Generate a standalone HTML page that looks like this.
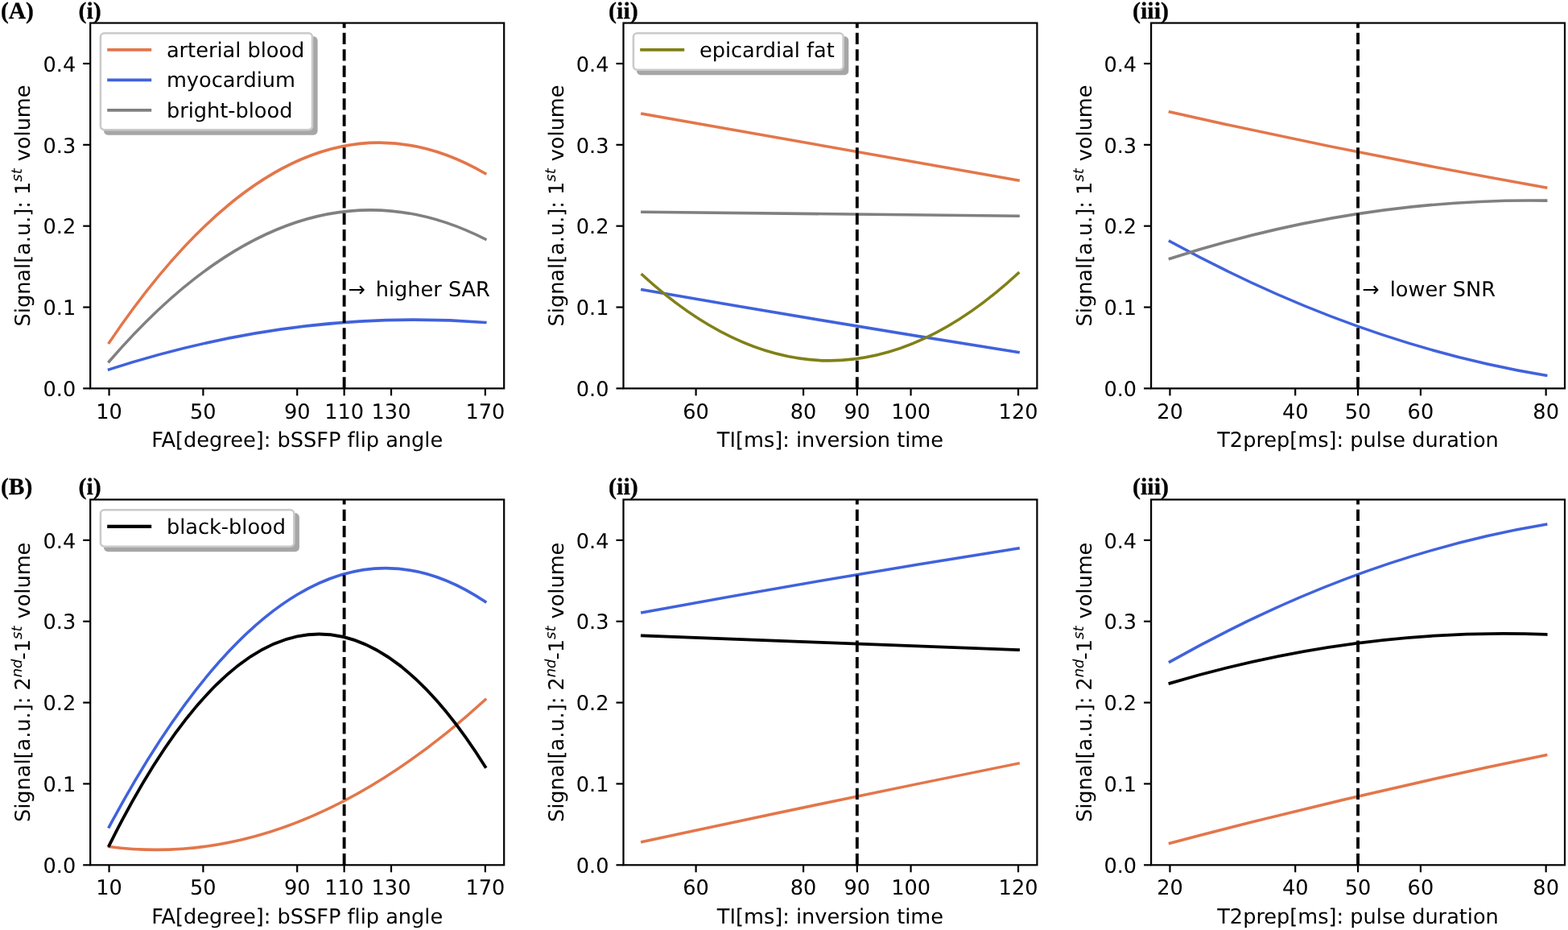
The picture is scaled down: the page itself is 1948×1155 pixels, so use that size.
<!DOCTYPE html>
<html lang="en">
<head>
<meta charset="utf-8">
<title>Signal simulation figure</title>
<style>
html,body{margin:0;padding:0;background:#fff}
body{width:1948px;height:1155px;overflow:hidden}
svg{display:block;filter:blur(0.4px)}
text{white-space:pre;font-variant-ligatures:none;text-rendering:geometricPrecision}
</style>
</head>
<body>
<svg width="1948" height="1155" viewBox="0 0 1948 1155" role="img" aria-label="Simulated signal curves">
<rect width="1948" height="1155" fill="#fff"/>
<g font-family="'DejaVu Sans', 'Liberation Sans', sans-serif" font-size="25.6" fill="#000">
<g>
<path d="M135.56 425.62Q369.2 79.66 602.84 215.44" fill="none" stroke="#e3764a" stroke-width="3.55" stroke-linecap="square"/>
<path d="M135.56 458.9Q369.2 382.86 602.84 400.4" fill="none" stroke="#4062dc" stroke-width="3.55" stroke-linecap="square"/>
<path d="M135.56 449.02Q369.2 178.28 602.84 297.03" fill="none" stroke="#808080" stroke-width="3.55" stroke-linecap="square"/>
<path d="M427.61 482.4V28.55" fill="none" stroke="#000" stroke-width="3.85" stroke-dasharray="14.21 6.14"/>
<path d="M135.56 482.4v9" stroke="#000" stroke-width="2.2"/>
<text x="135.56" y="519.8" text-anchor="middle">10</text>
<path d="M252.38 482.4v9" stroke="#000" stroke-width="2.2"/>
<text x="252.38" y="519.8" text-anchor="middle">50</text>
<path d="M369.2 482.4v9" stroke="#000" stroke-width="2.2"/>
<text x="369.2" y="519.8" text-anchor="middle">90</text>
<path d="M427.61 482.4v9" stroke="#000" stroke-width="2.2"/>
<text x="427.61" y="519.8" text-anchor="middle">110</text>
<path d="M486.02 482.4v9" stroke="#000" stroke-width="2.2"/>
<text x="486.02" y="519.8" text-anchor="middle">130</text>
<path d="M602.84 482.4v9" stroke="#000" stroke-width="2.2"/>
<text x="602.84" y="519.8" text-anchor="middle">170</text>
<path d="M112.2 482.4h-9" stroke="#000" stroke-width="2.2"/>
<text x="94.2" y="492.1" text-anchor="end">0.0</text>
<path d="M112.2 381.54h-9" stroke="#000" stroke-width="2.2"/>
<text x="94.2" y="391.24" text-anchor="end">0.1</text>
<path d="M112.2 280.69h-9" stroke="#000" stroke-width="2.2"/>
<text x="94.2" y="290.39" text-anchor="end">0.2</text>
<path d="M112.2 179.83h-9" stroke="#000" stroke-width="2.2"/>
<text x="94.2" y="189.53" text-anchor="end">0.3</text>
<path d="M112.2 78.98h-9" stroke="#000" stroke-width="2.2"/>
<text x="94.2" y="88.68" text-anchor="end">0.4</text>
<rect x="112.2" y="28.55" width="514" height="453.85" fill="none" stroke="#000" stroke-width="2.2"/>
<text x="369.2" y="555.25" text-anchor="middle">FA[degree]: bSSFP flip angle</text>
<text transform="translate(37.2 255.47) rotate(-90)" text-anchor="middle">Signal[a.u.]: 1<tspan font-size="17.92" font-style="italic" dy="-9.73">st</tspan><tspan dy="9.73" dx="0.9"> volume</tspan></text>
<rect x="130.25" y="46.4" width="263.1" height="120" rx="3.8" fill="#a6a6a6" stroke="#a6a6a6" stroke-width="2.5"/>
<rect x="124.9" y="41.2" width="263.1" height="120" rx="4.6" fill="#fff" stroke="#cacaca" stroke-width="2.6"/>
<path d="M133.2 61.9h55" stroke="#e3764a" stroke-width="3.85"/>
<text x="206.9" y="70.9">arterial blood</text>
<path d="M133.2 99.4h55" stroke="#4062dc" stroke-width="3.85"/>
<text x="206.9" y="108.4">myocardium</text>
<path d="M133.2 136.9h55" stroke="#808080" stroke-width="3.85"/>
<text x="206.9" y="145.9">bright-blood</text>
<text x="432.5" y="368.1">→</text>
<text x="466.7" y="368">higher SAR</text>
</g>
<g>
<path d="M797.86 141.21Q1031.45 183.26 1265.04 223.91" fill="none" stroke="#e3764a" stroke-width="3.55" stroke-linecap="square"/>
<path d="M797.86 359.76Q1031.45 400.38 1265.04 437.52" fill="none" stroke="#4062dc" stroke-width="3.55" stroke-linecap="square"/>
<path d="M797.86 263.24Q1031.45 265.03 1265.04 268.28" fill="none" stroke="#808080" stroke-width="3.55" stroke-linecap="square"/>
<path d="M797.86 341.3Q1031.45 555.36 1265.04 339.29" fill="none" stroke="#808018" stroke-width="3.55" stroke-linecap="square"/>
<path d="M1064.82 482.4V28.55" fill="none" stroke="#000" stroke-width="3.85" stroke-dasharray="14.21 6.14"/>
<path d="M864.6 482.4v9" stroke="#000" stroke-width="2.2"/>
<text x="864.6" y="519.8" text-anchor="middle">60</text>
<path d="M998.08 482.4v9" stroke="#000" stroke-width="2.2"/>
<text x="998.08" y="519.8" text-anchor="middle">80</text>
<path d="M1064.82 482.4v9" stroke="#000" stroke-width="2.2"/>
<text x="1064.82" y="519.8" text-anchor="middle">90</text>
<path d="M1131.56 482.4v9" stroke="#000" stroke-width="2.2"/>
<text x="1131.56" y="519.8" text-anchor="middle">100</text>
<path d="M1265.04 482.4v9" stroke="#000" stroke-width="2.2"/>
<text x="1265.04" y="519.8" text-anchor="middle">120</text>
<path d="M774.5 482.4h-9" stroke="#000" stroke-width="2.2"/>
<text x="756.5" y="492.1" text-anchor="end">0.0</text>
<path d="M774.5 381.54h-9" stroke="#000" stroke-width="2.2"/>
<text x="756.5" y="391.24" text-anchor="end">0.1</text>
<path d="M774.5 280.69h-9" stroke="#000" stroke-width="2.2"/>
<text x="756.5" y="290.39" text-anchor="end">0.2</text>
<path d="M774.5 179.83h-9" stroke="#000" stroke-width="2.2"/>
<text x="756.5" y="189.53" text-anchor="end">0.3</text>
<path d="M774.5 78.98h-9" stroke="#000" stroke-width="2.2"/>
<text x="756.5" y="88.68" text-anchor="end">0.4</text>
<rect x="774.5" y="28.55" width="513.9" height="453.85" fill="none" stroke="#000" stroke-width="2.2"/>
<text x="1031.45" y="555.25" text-anchor="middle">TI[ms]: inversion time</text>
<text transform="translate(699.7 255.47) rotate(-90)" text-anchor="middle">Signal[a.u.]: 1<tspan font-size="17.92" font-style="italic" dy="-9.73">st</tspan><tspan dy="9.73" dx="0.9"> volume</tspan></text>
<rect x="792.25" y="46.4" width="260.8" height="45.5" rx="3.8" fill="#a6a6a6" stroke="#a6a6a6" stroke-width="2.5"/>
<rect x="786.9" y="41.2" width="260.8" height="45.5" rx="4.6" fill="#fff" stroke="#cacaca" stroke-width="2.6"/>
<path d="M795.2 61.9h55" stroke="#808018" stroke-width="3.85"/>
<text x="868.9" y="70.9">epicardial fat</text>
</g>
<g>
<path d="M1453.46 139.09Q1687.05 191.63 1920.64 232.88" fill="none" stroke="#e3764a" stroke-width="3.55" stroke-linecap="square"/>
<path d="M1453.46 299.75Q1687.05 427.74 1920.64 466.16" fill="none" stroke="#4062dc" stroke-width="3.55" stroke-linecap="square"/>
<path d="M1453.46 321.23Q1687.05 245.94 1920.64 249.12" fill="none" stroke="#808080" stroke-width="3.55" stroke-linecap="square"/>
<path d="M1687.05 482.4V28.55" fill="none" stroke="#000" stroke-width="3.85" stroke-dasharray="14.21 6.14"/>
<path d="M1453.46 482.4v9" stroke="#000" stroke-width="2.2"/>
<text x="1453.46" y="519.8" text-anchor="middle">20</text>
<path d="M1609.19 482.4v9" stroke="#000" stroke-width="2.2"/>
<text x="1609.19" y="519.8" text-anchor="middle">40</text>
<path d="M1687.05 482.4v9" stroke="#000" stroke-width="2.2"/>
<text x="1687.05" y="519.8" text-anchor="middle">50</text>
<path d="M1764.91 482.4v9" stroke="#000" stroke-width="2.2"/>
<text x="1764.91" y="519.8" text-anchor="middle">60</text>
<path d="M1920.64 482.4v9" stroke="#000" stroke-width="2.2"/>
<text x="1920.64" y="519.8" text-anchor="middle">80</text>
<path d="M1430.1 482.4h-9" stroke="#000" stroke-width="2.2"/>
<text x="1412.1" y="492.1" text-anchor="end">0.0</text>
<path d="M1430.1 381.54h-9" stroke="#000" stroke-width="2.2"/>
<text x="1412.1" y="391.24" text-anchor="end">0.1</text>
<path d="M1430.1 280.69h-9" stroke="#000" stroke-width="2.2"/>
<text x="1412.1" y="290.39" text-anchor="end">0.2</text>
<path d="M1430.1 179.83h-9" stroke="#000" stroke-width="2.2"/>
<text x="1412.1" y="189.53" text-anchor="end">0.3</text>
<path d="M1430.1 78.98h-9" stroke="#000" stroke-width="2.2"/>
<text x="1412.1" y="88.68" text-anchor="end">0.4</text>
<rect x="1430.1" y="28.55" width="513.9" height="453.85" fill="none" stroke="#000" stroke-width="2.2"/>
<text x="1687.05" y="555.25" text-anchor="middle">T2prep[ms]: pulse duration</text>
<text transform="translate(1355.5 255.47) rotate(-90)" text-anchor="middle">Signal[a.u.]: 1<tspan font-size="17.92" font-style="italic" dy="-9.73">st</tspan><tspan dy="9.73" dx="0.9"> volume</tspan></text>
<text x="1692.3" y="368.2">→</text>
<text x="1726.7" y="368.1">lower SNR</text>
</g>
<g>
<path d="M135.56 1051.51Q369.2 1082.28 602.84 868.96" fill="none" stroke="#e3764a" stroke-width="3.55" stroke-linecap="square"/>
<path d="M135.56 1026.9Q369.2 589.87 602.84 747.33" fill="none" stroke="#4062dc" stroke-width="3.55" stroke-linecap="square"/>
<path d="M135.56 1050.09Q369.2 579.61 602.84 952.16" fill="none" stroke="#000000" stroke-width="3.8" stroke-linecap="square"/>
<path d="M427.61 1074.3V620.45" fill="none" stroke="#000" stroke-width="3.85" stroke-dasharray="14.21 6.14"/>
<path d="M135.56 1074.3v9" stroke="#000" stroke-width="2.2"/>
<text x="135.56" y="1111.2" text-anchor="middle">10</text>
<path d="M252.38 1074.3v9" stroke="#000" stroke-width="2.2"/>
<text x="252.38" y="1111.2" text-anchor="middle">50</text>
<path d="M369.2 1074.3v9" stroke="#000" stroke-width="2.2"/>
<text x="369.2" y="1111.2" text-anchor="middle">90</text>
<path d="M427.61 1074.3v9" stroke="#000" stroke-width="2.2"/>
<text x="427.61" y="1111.2" text-anchor="middle">110</text>
<path d="M486.02 1074.3v9" stroke="#000" stroke-width="2.2"/>
<text x="486.02" y="1111.2" text-anchor="middle">130</text>
<path d="M602.84 1074.3v9" stroke="#000" stroke-width="2.2"/>
<text x="602.84" y="1111.2" text-anchor="middle">170</text>
<path d="M112.2 1074.3h-9" stroke="#000" stroke-width="2.2"/>
<text x="94.2" y="1084" text-anchor="end">0.0</text>
<path d="M112.2 973.44h-9" stroke="#000" stroke-width="2.2"/>
<text x="94.2" y="983.14" text-anchor="end">0.1</text>
<path d="M112.2 872.59h-9" stroke="#000" stroke-width="2.2"/>
<text x="94.2" y="882.29" text-anchor="end">0.2</text>
<path d="M112.2 771.73h-9" stroke="#000" stroke-width="2.2"/>
<text x="94.2" y="781.43" text-anchor="end">0.3</text>
<path d="M112.2 670.88h-9" stroke="#000" stroke-width="2.2"/>
<text x="94.2" y="680.58" text-anchor="end">0.4</text>
<rect x="112.2" y="620.45" width="514" height="453.85" fill="none" stroke="#000" stroke-width="2.2"/>
<text x="369.2" y="1146.65" text-anchor="middle">FA[degree]: bSSFP flip angle</text>
<text transform="translate(37.2 847.38) rotate(-90)" text-anchor="middle">Signal[a.u.]: 2<tspan font-size="17.92" font-style="italic" dy="-9.73">nd</tspan><tspan dy="9.73" dx="-0.9">-1</tspan><tspan font-size="17.92" font-style="italic" dy="-9.73">st</tspan><tspan dy="9.73" dx="0.9"> volume</tspan></text>
<rect x="130.25" y="638.4" width="240.4" height="45.5" rx="3.8" fill="#a6a6a6" stroke="#a6a6a6" stroke-width="2.5"/>
<rect x="124.9" y="633.2" width="240.4" height="45.5" rx="4.6" fill="#fff" stroke="#cacaca" stroke-width="2.6"/>
<path d="M133.2 653.9h55" stroke="#000000" stroke-width="4.2"/>
<text x="206.9" y="662.9">black-blood</text>
</g>
<g>
<path d="M797.86 1045.56Q1031.45 995.2 1265.04 948.13" fill="none" stroke="#e3764a" stroke-width="3.55" stroke-linecap="square"/>
<path d="M797.86 760.74Q1031.45 717.76 1265.04 680.96" fill="none" stroke="#4062dc" stroke-width="3.55" stroke-linecap="square"/>
<path d="M797.86 789.38Q1031.45 797.52 1265.04 807.13" fill="none" stroke="#000000" stroke-width="3.8" stroke-linecap="square"/>
<path d="M1064.82 1074.3V620.45" fill="none" stroke="#000" stroke-width="3.85" stroke-dasharray="14.21 6.14"/>
<path d="M864.6 1074.3v9" stroke="#000" stroke-width="2.2"/>
<text x="864.6" y="1111.2" text-anchor="middle">60</text>
<path d="M998.08 1074.3v9" stroke="#000" stroke-width="2.2"/>
<text x="998.08" y="1111.2" text-anchor="middle">80</text>
<path d="M1064.82 1074.3v9" stroke="#000" stroke-width="2.2"/>
<text x="1064.82" y="1111.2" text-anchor="middle">90</text>
<path d="M1131.56 1074.3v9" stroke="#000" stroke-width="2.2"/>
<text x="1131.56" y="1111.2" text-anchor="middle">100</text>
<path d="M1265.04 1074.3v9" stroke="#000" stroke-width="2.2"/>
<text x="1265.04" y="1111.2" text-anchor="middle">120</text>
<path d="M774.5 1074.3h-9" stroke="#000" stroke-width="2.2"/>
<text x="756.5" y="1084" text-anchor="end">0.0</text>
<path d="M774.5 973.44h-9" stroke="#000" stroke-width="2.2"/>
<text x="756.5" y="983.14" text-anchor="end">0.1</text>
<path d="M774.5 872.59h-9" stroke="#000" stroke-width="2.2"/>
<text x="756.5" y="882.29" text-anchor="end">0.2</text>
<path d="M774.5 771.73h-9" stroke="#000" stroke-width="2.2"/>
<text x="756.5" y="781.43" text-anchor="end">0.3</text>
<path d="M774.5 670.88h-9" stroke="#000" stroke-width="2.2"/>
<text x="756.5" y="680.58" text-anchor="end">0.4</text>
<rect x="774.5" y="620.45" width="513.9" height="453.85" fill="none" stroke="#000" stroke-width="2.2"/>
<text x="1031.45" y="1146.65" text-anchor="middle">TI[ms]: inversion time</text>
<text transform="translate(699.7 847.38) rotate(-90)" text-anchor="middle">Signal[a.u.]: 2<tspan font-size="17.92" font-style="italic" dy="-9.73">nd</tspan><tspan dy="9.73" dx="-0.9">-1</tspan><tspan font-size="17.92" font-style="italic" dy="-9.73">st</tspan><tspan dy="9.73" dx="0.9"> volume</tspan></text>
</g>
<g>
<path d="M1453.46 1047.17Q1687.05 985.45 1920.64 937.84" fill="none" stroke="#e3764a" stroke-width="3.55" stroke-linecap="square"/>
<path d="M1453.46 821.86Q1687.05 690.09 1920.64 651.31" fill="none" stroke="#4062dc" stroke-width="3.55" stroke-linecap="square"/>
<path d="M1453.46 848.59Q1687.05 779.05 1920.64 787.97" fill="none" stroke="#000000" stroke-width="3.8" stroke-linecap="square"/>
<path d="M1687.05 1074.3V620.45" fill="none" stroke="#000" stroke-width="3.85" stroke-dasharray="14.21 6.14"/>
<path d="M1453.46 1074.3v9" stroke="#000" stroke-width="2.2"/>
<text x="1453.46" y="1111.2" text-anchor="middle">20</text>
<path d="M1609.19 1074.3v9" stroke="#000" stroke-width="2.2"/>
<text x="1609.19" y="1111.2" text-anchor="middle">40</text>
<path d="M1687.05 1074.3v9" stroke="#000" stroke-width="2.2"/>
<text x="1687.05" y="1111.2" text-anchor="middle">50</text>
<path d="M1764.91 1074.3v9" stroke="#000" stroke-width="2.2"/>
<text x="1764.91" y="1111.2" text-anchor="middle">60</text>
<path d="M1920.64 1074.3v9" stroke="#000" stroke-width="2.2"/>
<text x="1920.64" y="1111.2" text-anchor="middle">80</text>
<path d="M1430.1 1074.3h-9" stroke="#000" stroke-width="2.2"/>
<text x="1412.1" y="1084" text-anchor="end">0.0</text>
<path d="M1430.1 973.44h-9" stroke="#000" stroke-width="2.2"/>
<text x="1412.1" y="983.14" text-anchor="end">0.1</text>
<path d="M1430.1 872.59h-9" stroke="#000" stroke-width="2.2"/>
<text x="1412.1" y="882.29" text-anchor="end">0.2</text>
<path d="M1430.1 771.73h-9" stroke="#000" stroke-width="2.2"/>
<text x="1412.1" y="781.43" text-anchor="end">0.3</text>
<path d="M1430.1 670.88h-9" stroke="#000" stroke-width="2.2"/>
<text x="1412.1" y="680.58" text-anchor="end">0.4</text>
<rect x="1430.1" y="620.45" width="513.9" height="453.85" fill="none" stroke="#000" stroke-width="2.2"/>
<text x="1687.05" y="1146.65" text-anchor="middle">T2prep[ms]: pulse duration</text>
<text transform="translate(1355.5 847.38) rotate(-90)" text-anchor="middle">Signal[a.u.]: 2<tspan font-size="17.92" font-style="italic" dy="-9.73">nd</tspan><tspan dy="9.73" dx="-0.9">-1</tspan><tspan font-size="17.92" font-style="italic" dy="-9.73">st</tspan><tspan dy="9.73" dx="0.9"> volume</tspan></text>
</g>
</g>
<g font-family="'Liberation Serif', 'DejaVu Serif', serif" font-weight="bold" font-size="29.5" fill="#000" stroke="#000" stroke-width="0.3">
<text transform="translate(0.9 22.5) scale(1.0 1)">(A)</text>
<text transform="translate(97.5 22.6) scale(1.015 1)">(i)</text>
<text transform="translate(756 22.6) scale(1.02 1)">(ii)</text>
<text transform="translate(1406.9 22.6) scale(1.02 1)">(iii)</text>
<text transform="translate(0.9 614) scale(1.0 1)">(B)</text>
<text transform="translate(97.5 613.6) scale(1.015 1)">(i)</text>
<text transform="translate(756 613.6) scale(1.02 1)">(ii)</text>
<text transform="translate(1406.9 613.6) scale(1.02 1)">(iii)</text>
</g>
</svg>
</body>
</html>
